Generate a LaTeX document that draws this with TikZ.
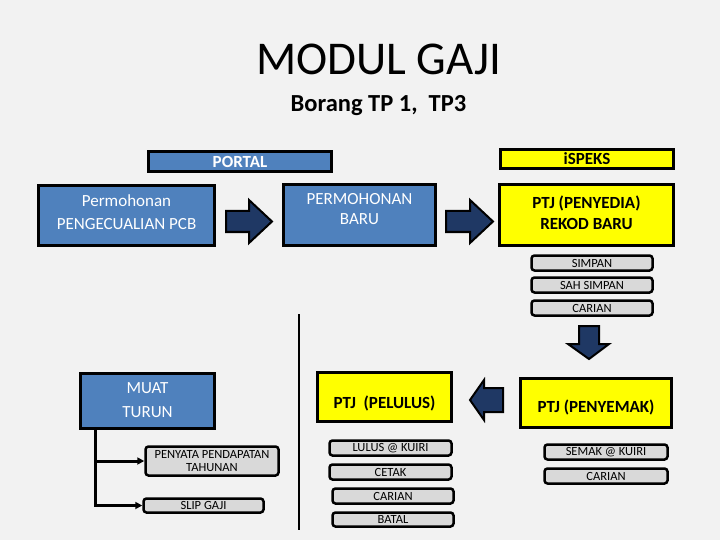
\documentclass[tikz,border=0pt]{standalone}
\usepackage{fontspec}
\setmainfont{Carlito}
\usetikzlibrary{arrows.meta}
\definecolor{bg}{HTML}{F2F2F2}
\definecolor{boxblue}{HTML}{4F81BD}
\definecolor{boxyellow}{HTML}{FFFF00}
\definecolor{boxgray}{HTML}{D9D9D9}
\definecolor{navy}{HTML}{1F3864}
\newcommand\mkbox[7]{\node[#1, minimum width={#5-#3-3}, minimum height={#6-#4-3}] (#2) at ({(#3+#5)/2},{(#4+#6)/2}) {#7};}
\begin{document}
\begin{tikzpicture}[x=1pt,y=-1pt,
  bluebox/.style={draw=black, line width=3pt, fill=boxblue, inner sep=0pt},
  yelbox/.style={draw=black, line width=3pt, fill=boxyellow, inner sep=0pt},
  graybox/.style={draw=black, line width=2.5pt, fill=boxgray, rounded corners=3pt, inner sep=0pt, align=center, font=\fontsize{12.5}{13}\selectfont},
  bluetxt/.style={text=white, align=center, inner sep=0pt},
  yeltxt/.style={text=black, align=center, inner sep=0pt, font=\bfseries\fontsize{17}{21}\selectfont},
  blockarrow/.style={draw=black, line width=2pt, fill=navy, line join=miter},
  conn/.style={draw=black, line width=3pt, -{Triangle[length=7pt,width=7pt]}},
  divider/.style={draw=black, line width=2pt}
]
\useasboundingbox (0,0) rectangle (720,540);
\fill[bg] (0,0) rectangle (720,540);

% titles
\node[anchor=base, text=black, font=\fontsize{47}{50}\selectfont, inner sep=0pt] (title) at (378.5,75) {MODUL GAJI};
\node[anchor=base, font=\bfseries\fontsize{24.5}{28}\selectfont, inner sep=0pt] (subtitle) at (378.5,112) {Borang TP 1,\ \ TP3};

% header bars
\mkbox{bluebox, text=white, font=\bfseries\fontsize{17}{20}\selectfont}{portal}{147}{150}{333}{173}{PORTAL}
\mkbox{yelbox, font=\bfseries\fontsize{17}{20}\selectfont}{ispeks}{499}{148}{675}{170}{iSPEKS}

% top row
\mkbox{bluebox}{pcb}{37}{184}{216}{247}{}
\node[bluetxt, font=\fontsize{17}{23}\selectfont] (pcbtxt) at ([yshift=3pt]pcb.center) {Permohonan\\PENGECUALIAN PCB};
\mkbox{bluebox}{baru}{282}{183}{437}{247}{}
\node[bluetxt, font=\fontsize{17}{19.5}\selectfont] (barutxt) at ([yshift=6pt]baru.center) {PERMOHONAN\\BARU};
\mkbox{yelbox}{penyedia}{498}{183}{675}{247}{}
\node[yeltxt, font=\bfseries\fontsize{17}{20.5}\selectfont] (penyediatxt) at ([yshift=2pt]penyedia.center) {PTJ (PENYEDIA)\\REKOD BARU};

% block arrows
\draw[blockarrow] (226,211) -- (249,211) -- (249,200) -- (272,221.5) -- (249,243) -- (249,232) -- (226,232) -- cycle;
\draw[blockarrow] (446,211) -- (470,211) -- (470,200) -- (493,221.5) -- (470,243) -- (470,232) -- (446,232) -- cycle;
\draw[blockarrow] (579,326) -- (599,326) -- (599,344) -- (609,344) -- (589,359) -- (568,344) -- (579,344) -- cycle;
\draw[blockarrow] (503,388) -- (484,388) -- (484,380) -- (470,400) -- (484,420) -- (484,412) -- (503,412) -- cycle;

% iSPEKS actions
\mkbox{graybox}{simpan}{530}{254}{654}{272}{SIMPAN}
\mkbox{graybox}{sahsimpan}{530}{276}{654}{294}{SAH SIMPAN}
\mkbox{graybox}{cariana}{530}{299}{654}{317}{CARIAN}

% divider
\coordinate (divtop) at (299,314);
\coordinate (divbot) at (299,530);
\draw[divider] (divtop) -- (divbot);

% bottom left
\mkbox{bluebox}{muat}{79}{372}{216}{430}{}
\node[bluetxt, font=\fontsize{17}{24.5}\selectfont] (muattxt) at ([yshift=1pt]muat.center) {MUAT\\TURUN};
\mkbox{graybox}{penyata}{144}{445}{280}{477}{PENYATA PENDAPATAN\\TAHUNAN}
\mkbox{graybox}{slip}{142}{497}{265}{514}{SLIP GAJI}
\coordinate (branch) at (95,430);
\draw[conn] (muat.south -| branch) |- (slip.west);
\draw[conn] (penyata.west -| branch) -- (penyata.west);

% pelulus
\mkbox{yelbox}{pelulus}{316}{371}{453}{423}{}
\node[yeltxt] (pelulustxt) at ([yshift=-6pt]pelulus.center) {PTJ\ \ (PELULUS)};
\mkbox{graybox}{lulus}{328}{439}{453}{457}{LULUS @ KUIRI}
\mkbox{graybox}{cetak}{328}{463}{453}{481}{CETAK}
\mkbox{graybox}{carianb}{331}{487}{455}{505}{CARIAN}
\mkbox{graybox}{batal}{331}{511}{455}{528}{BATAL}

% penyemak
\mkbox{yelbox}{penyemak}{519}{377}{673}{429}{}
\node[yeltxt] (penyemaktxt) at ([yshift=-4pt]penyemak.center) {PTJ (PENYEMAK)};
\mkbox{graybox}{semak}{543}{443}{669}{461}{SEMAK @ KUIRI}
\mkbox{graybox}{carianc}{543}{467}{669}{485}{CARIAN}
\end{tikzpicture}
\end{document}
